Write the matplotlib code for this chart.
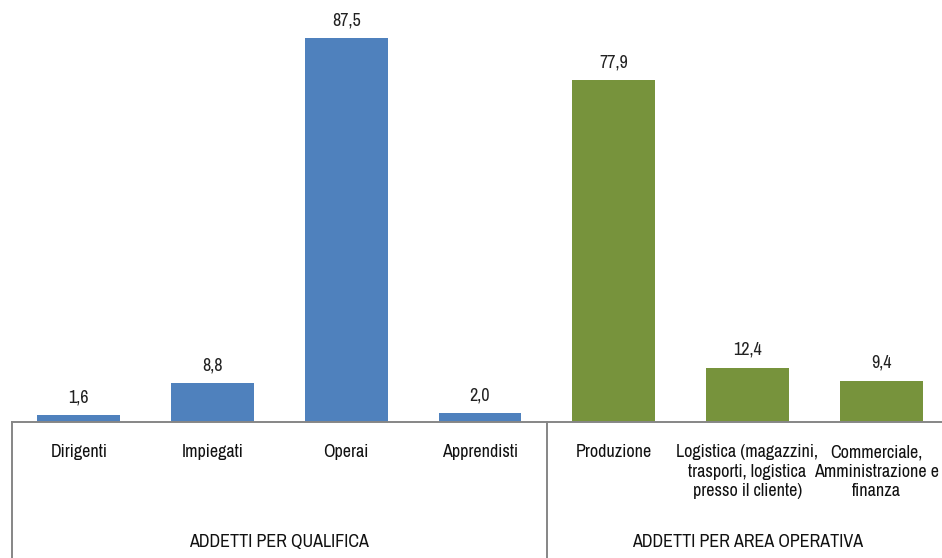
import matplotlib.pyplot as plt
import matplotlib.transforms as mtransforms

# percentuali addetti
categorie = ['Dirigenti', 'Impiegati', 'Operai', 'Apprendisti',
             'Produzione', 'Logistica (magazzini,\ntrasporti, logistica\npresso il cliente)',
             'Commerciale,\nAmministrazione e\nfinanza']
valori = [1.6, 8.8, 87.5, 2.0, 77.9, 12.4, 9.4]
gruppi = ['ADDETTI PER QUALIFICA', 'ADDETTI PER AREA OPERATIVA']
colori = ['#4F81BD'] * 4 + ['#77933C'] * 3

plt.rcParams['font.family'] = ['Archivo Narrow', 'DejaVu Sans']

fig = plt.figure(figsize=(9.42, 5.58), dpi=100)
ax = fig.add_axes([12 / 942, 136 / 558, 936 / 942, 422 / 558])

x = list(range(len(valori)))
bars = ax.bar(x, valori, width=0.62, color=colori)
for b, v in zip(bars, valori):
    ax.annotate(f'{v:.1f}'.replace('.', ','), (b.get_x() + b.get_width() / 2, v),
                xytext=(0, 7), textcoords='offset points', ha='center', va='bottom',
                fontsize=13, color='#222222')

ax.set_xlim(-0.5, 6.5)
ax.set_ylim(0, 96.1)
ax.set_yticks([])
ax.set_xticks(x)
ax.set_xticklabels(categorie, fontsize=13, linespacing=1.27, color='#111111')
ax.tick_params(axis='x', length=0, pad=16)
# l'ultima etichetta va spostata un poco a sinistra per restare nel riquadro
last = ax.get_xticklabels()[-1]
last.set_transform(last.get_transform()
                   + mtransforms.ScaledTranslation(-5 / 100, 0, fig.dpi_scale_trans))
for s in ['top', 'right', 'left']:
    ax.spines[s].set_visible(False)
ax.spines['bottom'].set_color('#868686')
ax.spines['bottom'].set_linewidth(1.4)

# separatori dei gruppi sotto l'asse
trans = mtransforms.blended_transform_factory(ax.transData, ax.transAxes)
for xs in [-0.5, 3.5, 6.5]:
    ax.plot([xs, xs], [0, -0.33], transform=trans, color='#868686', lw=1.4,
            clip_on=False)

ax.text(1.5, -0.284, gruppi[0], transform=trans, ha='center', va='center',
        fontsize=13, color='#111111')
ax.text(5.0, -0.284, gruppi[1], transform=trans, ha='center', va='center',
        fontsize=13, color='#111111')

fig.savefig('out.png', dpi=100)
